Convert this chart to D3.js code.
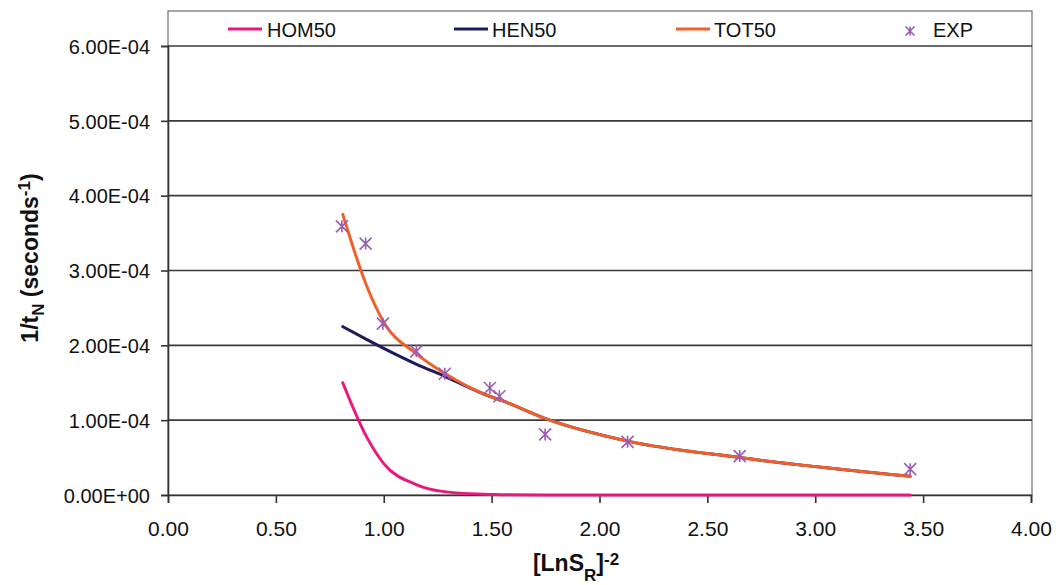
<!DOCTYPE html>
<html><head><meta charset="utf-8">
<script src="https://cdn.jsdelivr.net/npm/d3@7"></script>
<style>body{margin:0;background:#fff}svg{display:block}</style>
</head><body><svg id="c" width="1056" height="585"></svg>
<script>
const xVals = [0.81, 0.92, 1.00, 1.15, 1.28, 1.49, 1.54, 1.75, 2.13, 2.65, 3.44];
const hom50 = [1.50e-4, 0.78e-4, 0.42e-4, 0.14e-4, 0.045e-4, 0.008e-4, 0.005e-4, 0.001e-4, 0, 0, 0];
const hen50 = [2.25e-4, 2.08e-4, 1.96e-4, 1.75e-4, 1.59e-4, 1.32e-4, 1.27e-4, 1.02e-4, 0.72e-4, 0.50e-4, 0.25e-4];
const tot50 = [3.75e-4, 2.80e-4, 2.31e-4, 1.89e-4, 1.63e-4, 1.32e-4, 1.27e-4, 1.02e-4, 0.72e-4, 0.50e-4, 0.25e-4];
const expX = [0.806, 0.916, 0.996, 1.151, 1.283, 1.492, 1.536, 1.748, 2.13, 2.65, 3.44];
const expY = [3.59e-4, 3.36e-4, 2.29e-4, 1.92e-4, 1.62e-4, 1.43e-4, 1.32e-4, 0.81e-4, 0.71e-4, 0.52e-4, 0.345e-4];
const xTicks = [0, 0.5, 1, 1.5, 2, 2.5, 3, 3.5, 4];
const yTicks = [0, 1e-4, 2e-4, 3e-4, 4e-4, 5e-4, 6e-4];
const yTickLabels = ["0.00E+00","1.00E-04","2.00E-04","3.00E-04","4.00E-04","5.00E-04","6.00E-04"];
const seriesNames = ["HOM50","HEN50","TOT50","EXP"];
const colors = {HOM50:"#e8197d", HEN50:"#1c1c5c", TOT50:"#f0602a", EXP:"#9a5cb4"};

const svg = d3.select("#c");
const x = d3.scaleLinear().domain([0,4]).range([168,1031]);
const y = d3.scaleLinear().domain([0,6e-4]).range([495,46]);
const frameTop = 11;
const font = "'Liberation Sans', Arial, sans-serif";

// frame
svg.append("rect").attr("x",168).attr("y",frameTop).attr("width",1032-168).attr("height",495-frameTop)
  .attr("fill","none").attr("stroke","#777").attr("stroke-width",1.3);

// gridlines
svg.append("g").selectAll("line").data(yTicks.slice(1)).join("line")
  .attr("x1",168).attr("x2",1032).attr("y1",d=>y(d)).attr("y2",d=>y(d))
  .attr("stroke","#3a3a3a").attr("stroke-width",1.6);

// axes
const yAxis = d3.axisLeft(y).tickValues(yTicks).tickFormat((d,i)=>yTickLabels[i]).tickSize(7).tickPadding(11);
const gy = svg.append("g").attr("transform","translate(168,0)").call(yAxis);
const xAxis = d3.axisBottom(x).tickValues(xTicks).tickFormat(d3.format(".2f")).tickSize(8);
const gx = svg.append("g").attr("transform","translate(0,495)").call(xAxis);
[gx,gy].forEach(g=>{
  g.select(".domain").attr("stroke","#333").attr("stroke-width",1.6);
  g.selectAll(".tick line").attr("stroke","#333").attr("stroke-width",1.6);
  g.selectAll("text").attr("font-family",font).attr("font-size",20).attr("fill","#111");
});
gy.selectAll("text").attr("dy","0.36em");
gx.selectAll(".tick text").attr("y",41).attr("dy",null).attr("font-size",21);

// lines
const line = d3.line().x(d=>x(d[0])).y(d=>y(d[1])).curve(d3.curveMonotoneX);
const mk = arr => xVals.map((v,i)=>[v,arr[i]]);
[["HOM50",hom50],["HEN50",hen50],["TOT50",tot50]].forEach(([n,arr])=>{
  svg.append("path").attr("d",line(mk(arr))).attr("fill","none")
    .attr("stroke",colors[n]).attr("stroke-width",3).attr("stroke-linecap","round");
});

// EXP star markers
function star(g, cx, cy, r){
  const p = `M${cx-r},${cy-r}L${cx+r},${cy+r}M${cx-r},${cy+r}L${cx+r},${cy-r}M${cx},${cy-r}L${cx},${cy+r}`;
  g.append("path").attr("d",p).attr("stroke",colors.EXP).attr("stroke-width",1.6).attr("fill","none");
}
const gE = svg.append("g");
expX.forEach((v,i)=>star(gE, x(v), y(expY[i]), 6));

// legend
const leg = svg.append("g");
const legItems = [{n:"HOM50",lx:228,tx:267},{n:"HEN50",lx:454,tx:492},{n:"TOT50",lx:676,tx:714},{n:"EXP",lx:910,tx:933}];
legItems.forEach(it=>{
  if(it.n==="EXP"){ star(leg, it.lx, 31, 4.5); }
  else leg.append("line").attr("x1",it.lx).attr("x2",it.lx+34).attr("y1",29).attr("y2",29)
    .attr("stroke",colors[it.n]).attr("stroke-width",3);
  leg.append("text").attr("x", it.tx).attr("y",37)
    .attr("font-family",font).attr("font-size",20).attr("fill","#111").text(it.n);
});

// axis titles
const xt = svg.append("text").attr("x",576).attr("y",571).attr("text-anchor","middle")
  .attr("font-family",font).attr("font-size",23).attr("font-weight","bold").attr("fill","#111");
xt.append("tspan").text("[LnS");
xt.append("tspan").attr("font-size",17).attr("dy",10).text("R");
xt.append("tspan").attr("dy",-10).text("]");
xt.append("tspan").attr("font-size",17).attr("dy",-6).text("-2");

const yt = svg.append("text").attr("transform","translate(38,258) rotate(-90)").attr("text-anchor","middle")
  .attr("font-family",font).attr("font-size",23).attr("font-weight","bold").attr("fill","#111");
yt.append("tspan").text("1/t");
yt.append("tspan").attr("font-size",17).attr("dy",6).text("N");
yt.append("tspan").attr("dy",-6).text(" (seconds");
yt.append("tspan").attr("font-size",17).attr("dy",-8).text("-1");
yt.append("tspan").attr("dy",8).text(")");
</script></body></html>
